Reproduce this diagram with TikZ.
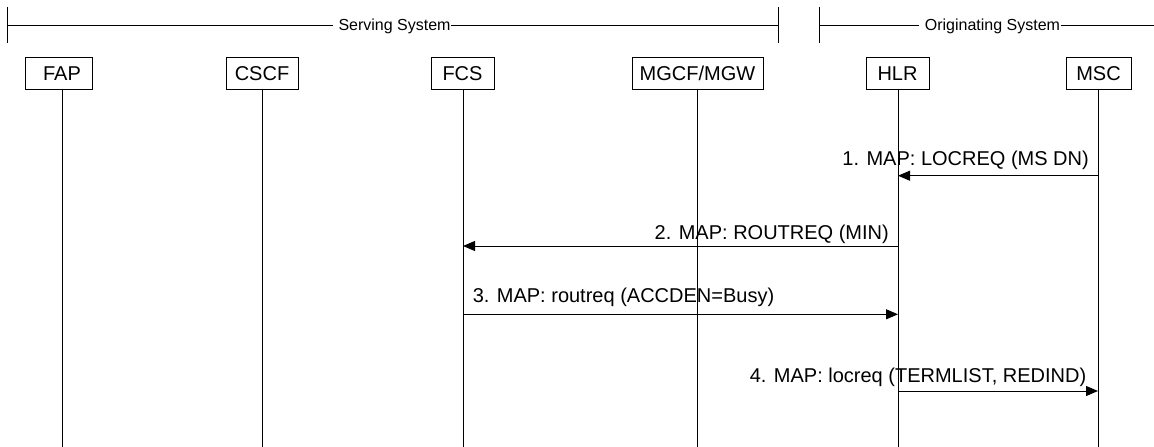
\documentclass[tikz,border=0pt]{standalone}
\usepackage{fontspec}
\setmainfont{Liberation Sans}
\usetikzlibrary{arrows.meta}
\begin{document}
\begin{tikzpicture}[x=1pt,y=-1pt,line width=1pt,
  box/.style={draw,line width=1pt,minimum height=32pt,inner sep=0pt,
              font=\fontsize{20}{24}\selectfont},
  msg/.style={-{Triangle[length=12pt,width=10pt]}},
  msgtext/.style={inner sep=0pt,font=\fontsize{20}{24}\selectfont},
  sys/.style={inner sep=0pt,font=\fontsize{16}{19}\selectfont}]
\fill[white] (0,0) rectangle (1154,447);
\useasboundingbox (0,0) rectangle (1154,447);

% system brackets
\coordinate (sA) at (7.3,7.3);   \coordinate (sB) at (7.3,43.3);
\coordinate (sC) at (778.3,7.3); \coordinate (sD) at (778.3,43.3);
\coordinate (oA) at (819,7.3);   \coordinate (oB) at (819,43.3);
\coordinate (sl) at (7.3,25);    \coordinate (sr) at (778.3,25);
\coordinate (ol) at (819,25);    \coordinate (orr) at (1154,25);
\draw (sA) -- (sB);
\draw (sC) -- (sD);
\draw (oA) -- (oB);
\node[sys,anchor=base west] (serving) at (338,30.7) {Serving System};
\node[sys,anchor=base west] (orig) at (924.4,30.7) {Originating System};
\coordinate (sgap) at ([xshift=-5pt]serving.west);
\coordinate (ogap) at ([xshift=-5pt]orig.west);
\draw (sl) -- (sgap |- sl);
\draw (serving.east |- sl) -- (sr);
\draw (ol) -- (ogap |- ol);
\draw (orig.east |- ol) -- (orr);

% entities
\node[box,minimum width=67pt] (fap) at (58.5,73.3) {\hspace*{7pt}FAP};
\node[box,minimum width=72pt] (cscf) at (262,73.3) {CSCF};
\node[box,minimum width=63pt] (fcs) at (462.5,73.3) {FCS};
\node[box,minimum width=131pt] (mgcf) at (697.5,73.3) {MGCF/MGW};
\node[box,minimum width=63pt] (hlr) at (897.5,73.3) {HLR};
\node[box,minimum width=65pt] (msc) at (1098.5,73.3) {MSC};

% lifelines
\coordinate (fapend) at (62,447);
\coordinate (cscfend) at (262.5,447);
\coordinate (fcsend) at (463,447);
\coordinate (mgcfend) at (697,447);
\coordinate (hlrend) at (898,447);
\coordinate (mscend) at (1098,447);
\draw (fap.south -| fapend) -- (fapend);
\draw (cscf.south -| cscfend) -- (cscfend);
\draw (fcs.south -| fcsend) -- (fcsend);
\draw (mgcf.south -| mgcfend) -- (mgcfend);
\draw (hlr.south -| hlrend) -- (hlrend);
\draw (msc.south -| mscend) -- (mscend);

% message end points
\coordinate (msc1) at (1098,175.7); \coordinate (hlr1) at (898,175.7);
\coordinate (hlr2) at (898,246);    \coordinate (fcs2) at (463,246);
\coordinate (fcs3) at (463,314.3);  \coordinate (hlr3) at (898,314.3);
\coordinate (hlr4) at (898,391);    \coordinate (msc4) at (1098,391);

% messages
\draw[msg] (msc1) -- (hlr1);
\node[msgtext,anchor=base east] (t1) at (1089.3,165) {1. MAP: LOCREQ (MS DN)};
\draw[msg] (hlr2) -- (fcs2);
\node[msgtext,anchor=base east] (t2) at (889.3,239.3) {2. MAP: ROUTREQ (MIN)};
\draw[msg] (fcs3) -- (hlr3);
\node[msgtext,anchor=base west] (t3) at (472.3,302.7) {3. MAP: routreq (ACCDEN=Busy)};
\draw[msg] (hlr4) -- (msc4);
\node[msgtext,anchor=base east] (t4) at (1086.7,382.3) {4. MAP: locreq (TERMLIST, REDIND)};
\end{tikzpicture}
\end{document}
